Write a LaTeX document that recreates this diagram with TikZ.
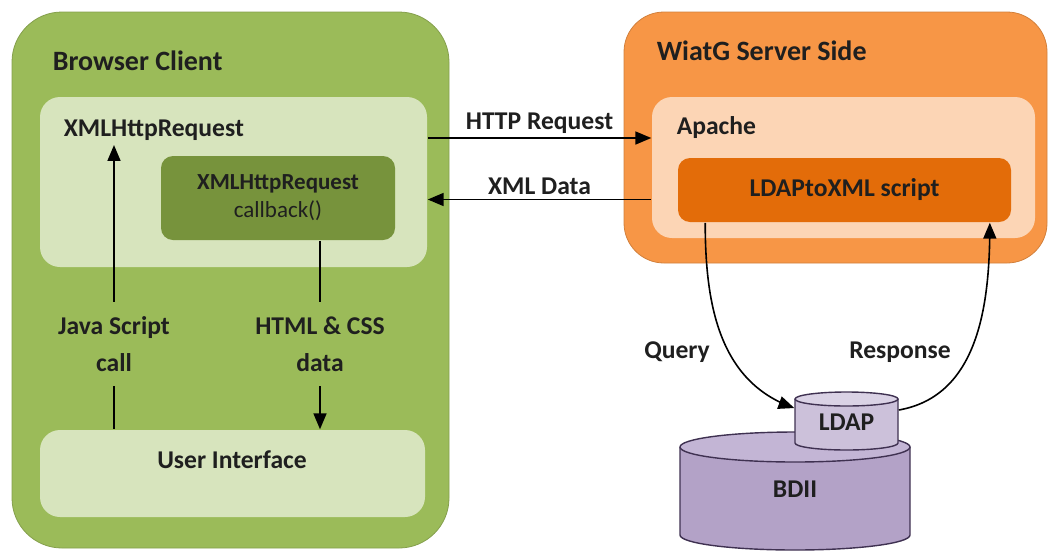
\documentclass[tikz,border=0pt]{standalone}
\usepackage{fontspec}
\setmainfont{Carlito}
\usetikzlibrary{arrows,positioning}
\definecolor{cligreen}{HTML}{9BBB59}
\definecolor{clilight}{HTML}{D7E4BD}
\definecolor{clidark}{HTML}{77933C}
\definecolor{srvorange}{HTML}{F79646}
\definecolor{srvlight}{HTML}{FCD5B5}
\definecolor{srvdark}{HTML}{E36C09}
\definecolor{dbbody}{HTML}{B3A2C7}
\definecolor{dbend}{HTML}{C3B5D5}
\definecolor{ldapbody}{HTML}{CCC1DA}
\definecolor{ldapend}{HTML}{DAD2E5}
\definecolor{dbline}{HTML}{3F3151}
\definecolor{txtdark}{HTML}{1F1F1F}

\begin{document}
\begin{tikzpicture}[x=0.5pt, y=0.5pt, thick, >=triangle 45,
    box/.style={rectangle, rounded corners=#1, inner sep=0pt},
    lbl/.style={font=\fontsize{12.8pt}{15pt}\selectfont\bfseries, text=txtdark, inner sep=2pt},
    title/.style={lbl, font=\fontsize{14pt}{16pt}\selectfont\bfseries, anchor=west},
    dbedge/.style={draw=dbline, line width=0.7pt}]
    \useasboundingbox (0,0) rectangle (1052,-552);

    % browser client
    \node[box=25pt, fill=cligreen, draw=cligreen!85!black, line width=0.4pt, minimum width=218.5pt, minimum height=268pt] (client) at (230.5,-280) {};
    \node[box=10pt, fill=clilight, minimum width=193.5pt, minimum height=85pt] (xhrbox) at (233.5,-182) {};
    \node[box=6pt, fill=clidark, minimum width=117pt, minimum height=42pt, align=center, font=\fontsize{11.5pt}{14pt}\selectfont, text=txtdark] (callback) at (278,-198) {\textbf{XMLHttpRequest}\\callback()};
    \node[box=10pt, fill=clilight, minimum width=192.5pt, minimum height=43.5pt] (ui) at (232.5,-473.5) {};
    \node[title] (clientlbl) at (48,-61) {Browser Client};
    \node[lbl, anchor=west] (xhr) at (59,-130) {XMLHttpRequest};
    \node[lbl] (uilbl) at (232,-460) {User Interface};
    \node[lbl, align=center, inner sep=7pt] (js) at (114,-344) {Java Script\\[3.5pt]call};
    \node[lbl, align=center, inner sep=7pt] (css) at (320,-344) {HTML \& CSS\\[3.5pt]data};

    \draw[->] (js.north) -- (js.north |- xhr.south);
    \draw (js.south) -- (js.south |- ui.north);
    \draw (callback.south -| css) -- (css.north);
    \draw[->] (css.south) -- (css.south |- ui.north);

    % server side
    \node[box=20pt, fill=srvorange, draw=srvorange!85!black, line width=0.4pt, minimum width=211.5pt, minimum height=125.5pt] (server) at (835.5,-137.5) {};
    \node[box=10pt, fill=srvlight, minimum width=191.5pt, minimum height=70.5pt] (apache) at (843.5,-167.5) {};
    \node[box=6pt, fill=srvdark, minimum width=166.5pt, minimum height=32pt, lbl] (script) at (844.5,-190) {LDAPtoXML script};
    \node[title] (srvlbl) at (652,-51) {WiatG Server Side};
    \node[lbl, anchor=west] (apachelbl) at (672,-128) {Apache};

    \draw[->] ([yshift=22pt]xhrbox.east) -- ([yshift=22pt]xhrbox.east -| apache.west) node[midway, above, lbl] {HTTP Request};
    \draw[->] ([yshift=-16pt]apache.west) -- ([yshift=-16pt]apache.west -| xhrbox.east) node[midway, above, lbl] {XML Data};

    % databases, drawn as cylinders
    \fill[dbbody] (680,-447) -- (680,-535) arc[start angle=180, end angle=360, x radius=115, y radius=15] -- (910,-447) -- cycle;
    \draw[dbedge] (680,-447) -- (680,-535) arc[start angle=180, end angle=360, x radius=115, y radius=15] -- (910,-447);
    \draw[dbedge, fill=dbend] (795,-447) ellipse [x radius=115, y radius=15];
    \node[lbl] (bdii) at (795,-489) {BDII};

    \fill[ldapbody] (795,-399) -- (795,-443) arc[start angle=180, end angle=360, x radius=51.5, y radius=7] -- (898,-399) -- cycle;
    \draw[dbedge] (795,-399) -- (795,-443) arc[start angle=180, end angle=360, x radius=51.5, y radius=7] -- (898,-399);
    \draw[dbedge, fill=ldapend] (846.5,-399) ellipse [x radius=51.5, y radius=7];
    \node[lbl, inner sep=0pt, minimum width=51.5pt, minimum height=20pt] (ldap) at (846.5,-422) {LDAP};

    \draw[->] ([xshift=14pt]script.south west) to[out=-90, in=160] ([yshift=7pt]ldap.west);
    \draw[->] ([yshift=6pt]ldap.east) to[out=10, in=-90] ([xshift=-11pt]script.south east);
    \node[lbl] (query) at (677,-352) {Query};
    \node[lbl] (response) at (900,-352) {Response};
\end{tikzpicture}
\end{document}
